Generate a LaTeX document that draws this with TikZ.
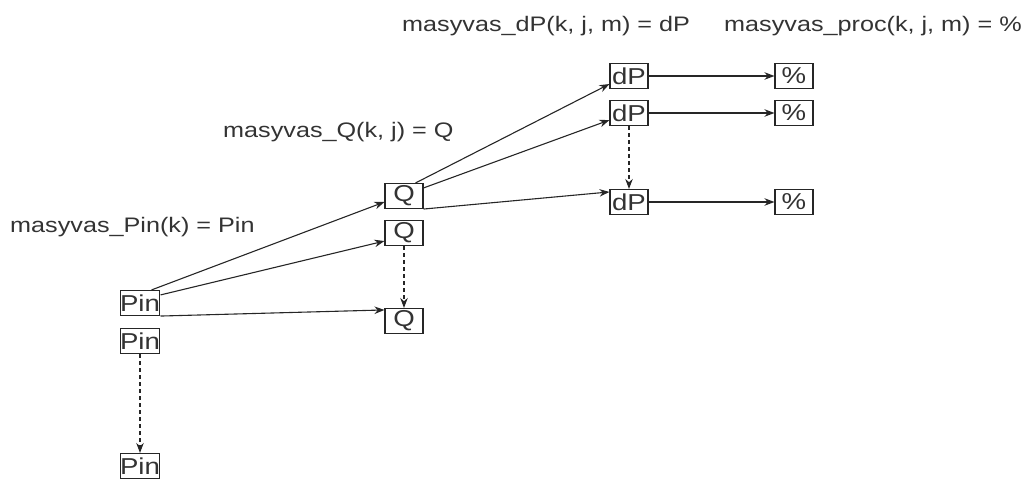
\documentclass[tikz,border=0pt]{standalone}
\usepackage{fontspec}
\setmainfont{Liberation Sans}
\newfontfamily\labfont[FakeStretch=1.2]{Liberation Sans}
\usetikzlibrary{arrows.meta}
\begin{document}
\begin{tikzpicture}[x=1pt,y=1pt,
  cell/.style={draw=black!85, line width=1.1pt, minimum width=38pt, minimum height=25pt,
    inner sep=0pt, font=\labfont\fontsize{23}{23}\selectfont, text=black!80},
  caption/.style={inner sep=0pt, font=\labfont\fontsize{21}{21}\selectfont, text=black!80},
  link/.style={draw=black!85, line width=1.1pt, -{Stealth[length=10pt,width=7.5pt]}},
  hop/.style={link, dash pattern=on 4pt off 3pt}]
\useasboundingbox (0,0) rectangle (1023,479);

% array labels
\node[caption, anchor=base west] (lpin) at (10,246) {masyvas\_Pin(k) = Pin};
\node[caption, anchor=base west] (lq) at (223,341) {masyvas\_Q(k, j) = Q};
\node[caption, anchor=base west] (ldp) at (402,447) {masyvas\_dP(k, j, m) = dP};
\node[caption, anchor=base west] (lpr) at (724,447) {masyvas\_proc(k, j, m) = \%};

% cells
\node[cell] (pin1) at (140,176) {Pin};
\node[cell] (pin2) at (140,138) {Pin};
\node[cell] (pin3) at (140,13) {Pin};
\node[cell] (q1) at (404,283) {Q};
\node[cell] (q2) at (404,246) {Q};
\node[cell] (q3) at (404,158) {Q};
\node[cell] (dp1) at (629,403) {dP};
\node[cell] (dp2) at (629,366) {dP};
\node[cell] (dp3) at (629,277) {dP};
\node[cell] (pr1) at (794,403) {\%};
\node[cell] (pr2) at (794,366) {\%};
\node[cell] (pr3) at (794,277) {\%};

% Pin -> Q
\draw[link] ([xshift=-9pt]pin1.north east) -- ([yshift=-6pt]q1.west);
\draw[link] ([yshift=-5pt]pin1.north east) -- ([yshift=5pt]q2.south west);
\draw[link] (pin1.south east) -- ([yshift=-2pt]q3.north west);

% Q -> dP
\draw[link] ([xshift=-8pt]q1.north east) -- ([yshift=5pt]dp1.south west);
\draw[link] ([yshift=-5pt]q1.north east) -- ([yshift=6pt]dp2.south west);
\draw[link] (q1.south east) -- ([yshift=-3pt]dp3.north west);

% dP -> %
\draw[link] (dp1) -- (pr1);
\draw[link] (dp2) -- (pr2);
\draw[link] (dp3) -- (pr3);

% continuation of each column
\draw[hop] (pin2) -- (pin3);
\draw[hop] (q2) -- (q3);
\draw[hop] (dp2) -- (dp3);
\end{tikzpicture}
\end{document}
